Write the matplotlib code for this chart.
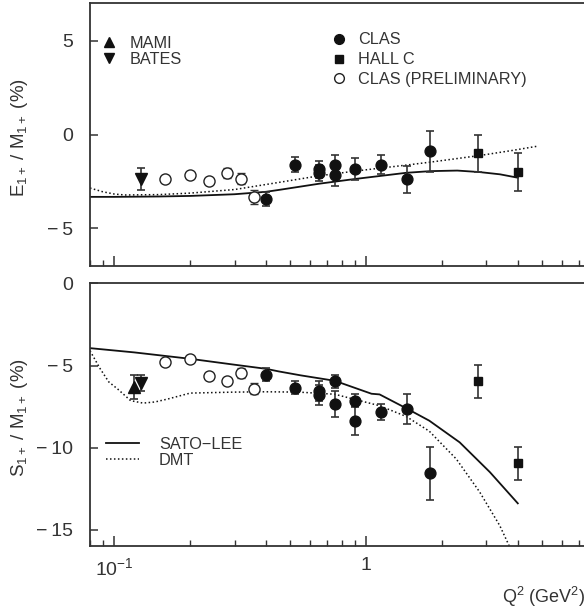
import numpy as np
import matplotlib
matplotlib.use("Agg")
import matplotlib.pyplot as plt
from matplotlib.lines import Line2D
from matplotlib.ticker import LogLocator, FixedLocator, NullFormatter, FixedFormatter

plt.rcParams["font.family"] = ["Liberation Sans", "DejaVu Sans"]
plt.rcParams["mathtext.fontset"] = "custom"
plt.rcParams["mathtext.rm"] = "Liberation Sans"
plt.rcParams["mathtext.it"] = "Liberation Sans:italic"
plt.rcParams["mathtext.bf"] = "Liberation Sans:bold"

TXT = "#333333"
INK = "#111111"

# ---- E1+/M1+ panel ----
mami_q_e, mami_e, mami_e_err = [], [], []
bates_q_e, bates_e, bates_e_err = [0.127], [-2.35], [0.58]
clas_q_e = [0.40, 0.52, 0.65, 0.65, 0.75, 0.75, 0.90, 1.15, 1.45, 1.80]
clas_e = [-3.45, -1.60, -1.85, -2.05, -1.60, -2.13, -1.83, -1.60, -2.39, -0.90]
clas_e_err = [0.37, 0.41, 0.45, 0.45, 0.50, 0.60, 0.58, 0.50, 0.70, 1.10]
hallc_q_e = [2.79, 4.0]
hallc_e = [-1.01, -2.0]
hallc_e_err = [1.0, 1.0]
pre_q_e = [0.159, 0.199, 0.238, 0.279, 0.319, 0.357]
pre_e = [-2.39, -2.16, -2.48, -2.05, -2.35, -3.35]
pre_e_err = [0.0, 0.0, 0.0, 0.28, 0.28, 0.37]

sl_q_e = [0.08, 0.10, 0.15, 0.20, 0.30, 0.40, 0.45, 0.65, 0.90, 1.44, 1.80, 2.3, 2.82, 3.4, 4.0]
sl_e = [-3.32, -3.32, -3.30, -3.27, -3.18, -3.05, -2.95, -2.62, -2.37, -2.04, -1.95, -1.92, -2.0, -2.12, -2.3]
dmt_q_e = [0.08, 0.09, 0.10, 0.11, 0.15, 0.20, 0.30, 0.45, 0.65, 0.90, 1.44, 1.80, 2.82, 3.8, 4.8]
dmt_e = [-2.85, -3.05, -3.17, -3.22, -3.20, -3.12, -2.93, -2.55, -2.20, -1.95, -1.63, -1.47, -1.12, -0.85, -0.62]

# ---- S1+/M1+ panel ----
mami_q_s, mami_s, mami_s_err = [0.120], [-6.33], [0.74]
bates_q_s, bates_s, bates_s_err = [0.128], [-6.05], [0.5]
clas_q_s = [0.40, 0.52, 0.65, 0.65, 0.75, 0.75, 0.90, 0.90, 1.15, 1.45, 1.80]
clas_s = [-5.56, -6.35, -6.55, -6.80, -5.97, -7.35, -7.15, -8.36, -7.85, -7.65, -11.57]
clas_s_err = [0.40, 0.39, 0.60, 0.60, 0.40, 0.80, 0.40, 0.90, 0.50, 0.90, 1.60]
hallc_q_s = [2.79, 4.0]
hallc_s = [-5.97, -10.96]
hallc_s_err = [1.0, 1.0]
pre_q_s = [0.159, 0.199, 0.238, 0.279, 0.319, 0.357]
pre_s = [-4.77, -4.63, -5.62, -5.95, -5.48, -6.40]
pre_s_err = [0.0, 0.0, 0.0, 0.0, 0.30, 0.33]

sl_q_s = [0.08, 0.12, 0.20, 0.30, 0.40, 0.45, 0.55, 0.75, 1.05, 1.13, 1.44, 1.78, 2.35, 3.1, 4.0]
sl_s = [-3.94, -4.20, -4.59, -4.95, -5.20, -5.36, -5.60, -5.93, -6.72, -6.76, -7.60, -8.36, -9.68, -11.5, -13.4]
dmt_q_s = [0.08, 0.088, 0.095, 0.103, 0.116, 0.13, 0.145, 0.163, 0.2, 0.3, 0.4, 0.54,
           0.75, 1.13, 1.44, 1.78, 2.28, 2.82, 3.39, 3.7]
dmt_s = [-4.1, -5.22, -6.0, -6.43, -7.14, -7.29, -7.22, -7.04, -6.68, -6.62, -6.6, -6.62,
         -6.75, -7.45, -8.1, -9.0, -10.7, -12.7, -14.75, -16.0]

yticks_e = [-5, 0, 5]
yticks_s = [-15, -10, -5, 0]
xtick_vals = [0.1, 1, 10]
xtick_labels = [r"$10^{-1}$", "1", ""]

W, H = 584, 613
fig = plt.figure(figsize=(W / 100, H / 100), dpi=100)
left, width = 90 / W, 528 / W
ax1 = fig.add_axes([left, (H - 266) / H, width, 263 / H])
ax2 = fig.add_axes([left, (H - 546) / H, width, 262.5 / H])

eb = dict(ecolor="#333333", elinewidth=1.2, capsize=3.2, capthick=1.2, linestyle="none")
styles = {
    "mami": dict(marker="^", ms=8, mfc=INK, mec=INK),
    "bates": dict(marker="v", ms=8.5, mfc=INK, mec=INK),
    "clas": dict(marker="o", ms=7.8, mfc=INK, mec=INK),
    "hallc": dict(marker="s", ms=6, mfc=INK, mec=INK),
    "pre": dict(marker="o", ms=8, mfc="white", mec="#222222", mew=1.0),
}


def draw_panel(ax, series, sl, dmt):
    ax.plot(sl[0], sl[1], color=INK, lw=1.3, zorder=2)
    ax.plot(dmt[0], dmt[1], color=INK, lw=1.1, linestyle=(0, (1, 1.6)), zorder=2)
    for key, (q, v, err) in series.items():
        if len(q) == 0:
            continue
        ax.errorbar(q, v, yerr=err, **eb, **styles[key], zorder=3)


def fmt_minus(v):
    return f"\u2212\u2009{abs(v)}" if v < 0 else f"{v}"


draw_panel(ax1,
           {"pre": (pre_q_e, pre_e, pre_e_err), "bates": (bates_q_e, bates_e, bates_e_err),
            "clas": (clas_q_e, clas_e, clas_e_err), "hallc": (hallc_q_e, hallc_e, hallc_e_err)},
           (sl_q_e, sl_e), (dmt_q_e, dmt_e))
draw_panel(ax2,
           {"pre": (pre_q_s, pre_s, pre_s_err), "mami": (mami_q_s, mami_s, mami_s_err),
            "bates": (bates_q_s, bates_s, bates_s_err),
            "clas": (clas_q_s, clas_s, clas_s_err), "hallc": (hallc_q_s, hallc_s, hallc_s_err)},
           (sl_q_s, sl_s), (dmt_q_s, dmt_s))

for ax, ylim, yt in [(ax1, (-7, 7), yticks_e), (ax2, (-16, 0), yticks_s)]:
    ax.set_xscale("log")
    ax.set_xlim(0.08, 10)
    ax.set_ylim(*ylim)
    ax.set_yticks(yt, [fmt_minus(v) for v in yt])
    for s in ax.spines.values():
        s.set_color("#333333")
        s.set_linewidth(1.3)
    ax.spines["right"].set_visible(False)
    ax.xaxis.set_major_locator(FixedLocator(xtick_vals))
    ax.xaxis.set_minor_locator(LogLocator(base=10, subs=np.arange(2, 10), numticks=20))
    ax.tick_params(axis="both", which="both", direction="in", colors="#333333",
                   labelcolor=TXT, labelsize=14, top=False, right=False)
    ax.tick_params(axis="x", which="major", length=7, width=1.1, pad=8)
    ax.tick_params(axis="x", which="minor", length=4, width=1.0)
    ax.tick_params(axis="y", which="major", length=6, width=1.1, pad=12)
    ax.patch.set_visible(False)

ax1.xaxis.set_major_formatter(NullFormatter())
ax1.xaxis.set_minor_formatter(NullFormatter())
ax2.xaxis.set_major_formatter(FixedFormatter(xtick_labels))
ax2.xaxis.set_minor_formatter(NullFormatter())

ax1.set_ylabel(r"E$_{\mathrm{1+}}$ / M$_{\mathrm{1+}}$ (%)", fontsize=13.5, color=TXT)
ax2.set_ylabel(r"S$_{\mathrm{1+}}$ / M$_{\mathrm{1+}}$ (%)", fontsize=13.5, color=TXT)
ax1.yaxis.set_label_coords(-0.114, 0.49)
ax2.yaxis.set_label_coords(-0.114, 0.49)

fig.text(502 / W, 1 - 597 / H, r"Q$^{2}$ (GeV$^{2}$)", fontsize=13, color=TXT,
         ha="left", va="center")


def handle(key):
    st = dict(styles[key])
    if key == "pre":
        st["ms"] = 7
    else:
        st["ms"] = st["ms"] * 0.9
    return Line2D([], [], linestyle="none", **st)


LEG_FS = 11.7
lg1 = ax1.legend([handle("mami"), handle("bates")], ["MAMI", "BATES"],
                 loc="upper left", bbox_to_anchor=(0.008, 0.9), frameon=False,
                 fontsize=LEG_FS, handlelength=1.0, handletextpad=0.75, labelspacing=0.08,
                 borderaxespad=0, labelcolor=TXT)
ax1.add_artist(lg1)
ax1.legend([handle("clas"), handle("hallc"), handle("pre")],
           ["CLAS", "HALL C", "CLAS (PRELIMINARY)"],
           loc="upper left", bbox_to_anchor=(0.443, 0.913), frameon=False,
           fontsize=LEG_FS, handlelength=1.0, handletextpad=0.7, labelspacing=0.3,
           borderaxespad=0, labelcolor=TXT)

ax2.legend([Line2D([], [], color=INK, lw=1.3),
            Line2D([], [], color=INK, lw=1.1, linestyle=(0, (1, 1.6)))],
           ["SATO\u2212LEE", "DMT"],
           loc="upper left", bbox_to_anchor=(0.018, 0.44), frameon=False,
           fontsize=LEG_FS, handlelength=2.0, handletextpad=1.25, labelspacing=0.05,
           borderaxespad=0, labelcolor=TXT)

fig.savefig("out.png", dpi=100)
